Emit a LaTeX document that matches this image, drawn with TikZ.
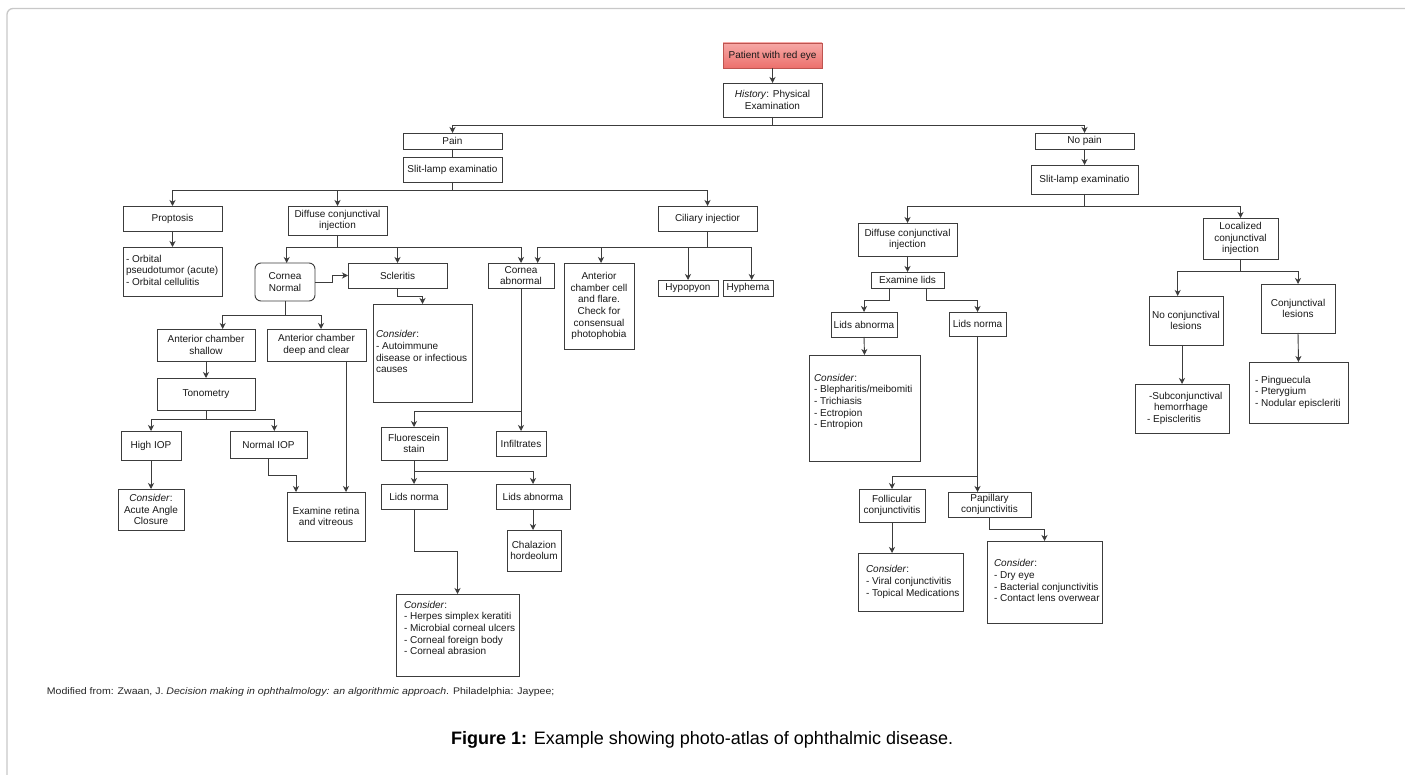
\documentclass[tikz,border=0pt]{standalone}
\usepackage{fontspec}
\setmainfont{Liberation Sans}
\usetikzlibrary{arrows.meta,calc}
\definecolor{ln}{RGB}{60,60,60}
\definecolor{frame}{RGB}{200,200,200}
\definecolor{pattop}{RGB}{246,168,166}
\definecolor{patbot}{RGB}{236,112,108}
\definecolor{patdraw}{RGB}{190,84,80}
\newcommand{\bx}[7][]{%
  \pgfmathsetmacro\bxcx{(#3+#5)/2}\pgfmathsetmacro\bxcy{(#4+#6)/2}%
  \pgfmathsetmacro\bxw{#5-#3}\pgfmathsetmacro\bxh{#6-#4}%
  \node[box,minimum width=\bxw pt,minimum height=\bxh pt,#1] (#2) at (\bxcx,\bxcy) {#7};}
\newcommand{\lbx}[8][]{%
  \pgfmathsetmacro\bxcx{(#3+#5)/2}\pgfmathsetmacro\bxcy{(#4+#6)/2}%
  \pgfmathsetmacro\bxw{#5-#3}\pgfmathsetmacro\bxh{#6-#4}%
  \pgfmathsetmacro\bxtw{#5-#3-2*#7}%
  \node[box,minimum width=\bxw pt,minimum height=\bxh pt,#1] (#2) at (\bxcx,\bxcy)
    {\makebox[\bxtw pt][l]{\begin{tabular}{@{}l@{}}#8\end{tabular}}};}
\begin{document}
\begin{tikzpicture}[x=1pt,y=-1pt,
  box/.style={draw=ln,line width=0.9pt,inner sep=0pt,outer sep=0pt,align=center,
    font=\fontsize{10}{11.7}\selectfont,text=black!90},
  conn/.style={draw=ln,line width=0.9pt},
  arr/.style={conn,-{Stealth[length=6pt,width=6pt,inset=1.8pt]}}]
\clip (0,0) rectangle (1405,775);
\fill[white] (0,0) rectangle (1405,775);
\draw[frame,line width=1.3pt,rounded corners=6pt] (7,8.5) rectangle (1430,800);

% ---------- boxes ----------
\bx[top color=pattop,bottom color=patbot,draw=patdraw]{pat}{723}{43}{822}{68}{Patient with red eye}
\bx{hist}{723}{83}{822}{117}{\textit{History}: Physical\\Examination}
\bx{pain}{403}{133}{502}{149}{Pain}
\bx{slitL}{403}{157}{502}{182}{Slit-lamp examinatio}
\bx{nopain}{1035}{133}{1134}{149}{No pain}
\bx{slitR}{1031}{165}{1138}{194}{Slit-lamp examinatio}
\bx{prop}{123}{206}{222}{231}{Proptosis}
\bx{diffL}{288}{206}{387}{235}{Diffuse conjunctival\\injection}
\bx{cil}{658}{206}{757}{231}{Ciliary injectior}
\lbx{orb}{123}{247}{222}{296}{3}{- Orbital\\pseudotumor (acute)\\- Orbital cellulitis}
\bx[rounded corners=6pt]{cnorm}{255}{263}{315}{301}{Cornea\\Normal}
\bx{scl}{348}{263}{447}{288}{Scleritis}
\bx{cabn}{488}{263}{554}{288}{Cornea\\abnormal}
\bx{acc}{564}{263}{634}{349}{Anterior\\chamber cell\\and flare.\\Check for\\consensual\\photophobia}
\bx{hypo}{658}{280}{718}{296}{Hypopyon}
\bx{hyph}{723}{280}{773}{296}{Hyphema}
\lbx{cons1}{373}{304}{472}{402}{3}{\textit{Consider}:\\- Autoimmune\\disease or infectious\\causes}
\bx{acs}{157}{329}{255}{361}{Anterior chamber\\shallow}
\bx{acd}{267}{329}{366}{361}{Anterior chamber\\deep and clear}
\bx{tono}{157}{378}{255}{410}{Tonometry}
\bx{high}{121}{431}{181}{460}{High IOP}
\bx{nIOP}{230}{431}{307}{458}{Normal IOP}
\bx{aac}{118}{489}{184}{530}{\textit{Consider}:\\Acute Angle\\Closure}
\bx{exam}{287}{492}{365}{541}{Examine retina\\and vitreous}
\bx{fluo}{381}{427}{447}{460}{Fluorescein\\stain}
\bx{infil}{496}{431}{546}{456}{Infiltrates}
\bx{lidsnL}{381}{484}{447}{509}{Lids norma}
\bx{lidsaL}{496}{484}{570}{509}{Lids abnorma}
\bx{chal}{507}{530}{561}{571}{Chalazion\\hordeolum}
\lbx{herp}{396}{594}{519}{676}{8}{\textit{Consider}:\\- Herpes simplex keratiti\\- Microbial corneal ulcers\\- Corneal foreign body\\- Corneal abrasion\\\mbox{}}
\bx{diffR}{858}{223}{957}{256}{Diffuse conjunctival\\injection}
\bx{loc}{1203}{218}{1278}{259}{Localized\\conjunctival\\injection}
\bx{exlids}{871}{272}{944}{288}{Examine lids}
\bx{lidsaR}{831}{312}{897}{337}{Lids abnorma}
\bx{lidsnR}{949}{312}{1006}{336}{Lids norma}
\lbx{cons2}{809}{355}{920}{461}{5}{\textit{Consider}:\\- Blepharitis/meibomiti\\- Trichiasis\\- Ectropion\\- Entropion\\\mbox{}}
\bx{foll}{859}{489}{925}{522}{Follicular\\conjunctivitis}
\bx{papi}{948}{492}{1031}{517}{Papillary\\conjunctivitis}
\lbx{cons3}{858}{553}{963}{611}{8}{\textit{Consider}:\\- Viral conjunctivitis\\- Topical Medications}
\lbx{cons4}{987}{541}{1102}{623}{7}{\textit{Consider}:\\- Dry eye\\- Bacterial conjunctivitis\\- Contact lens overwear}
\bx{nocl}{1149}{296}{1223}{345}{No conjunctival\\lesions}
\bx{cl}{1261}{284}{1335}{333}{Conjunctival\\lesions}
\lbx{subc}{1135}{384}{1229}{433}{12}{\hspace{2pt}-Subconjunctival\\\hspace{7pt}hemorrhage\\- Episcleritis}
\lbx{ping}{1249}{362}{1348}{423}{6}{- Pinguecula\\- Pterygium\\- Nodular episcleriti}

% ---------- connectors ----------
\draw[arr] (pat.south) -- (hist.north);
\draw[conn] (hist.south) -- ++(0,8) coordinate (b1);
\draw[arr] (b1) -| (pain.north);
\draw[arr] (b1) -| (nopain.north);
\draw[conn] (pain.south) -- (slitL.north);
\draw[conn] (slitL.south) -- ++(0,8.3) coordinate (b2);
\draw[arr] (b2) -| (prop.north);
\draw[arr] (b2) -| (diffL.north);
\draw[arr] (b2) -| (cil.north);
\draw[arr] (prop.south) -- (orb.north);
\draw[conn] (diffL.south) -- ++(0,12) coordinate (b3);
\draw[arr] (b3) -| ($(cnorm.north)+(1.7,0)$);
\draw[arr] (b3) -| (scl.north);
\draw[arr] (b3) -| (cabn.north);
\draw[conn] (cil.south) -- ++(0,16) coordinate (b4);
\draw[arr] (b4) -| ($(cabn.north)+(16.7,0)$);
\draw[arr] (b4) -| ($(acc.north)+(2,0)$);
\draw[arr] (b4) -| (hypo.north);
\draw[arr] (b4) -| ($(hyph.north)+(3.7,0)$);
\draw[arr] (cnorm.east) -- ++(17,0) |- (scl.west);
\draw[arr] (scl.south) -- ++(0,8) -| (cons1.north);
\draw[conn] (cnorm.south) -- ++(0,14.5) coordinate (b5);
\draw[arr] (b5) -| ($(acs.north)+(16.7,0)$);
\draw[arr] (b5) -| ($(acd.north)+(4.5,0)$);
\draw[arr] (acs.south) -- (tono.north);
\draw[conn] (tono.south) -- ++(0,9) coordinate (b6);
\draw[arr] (b6) -| (high.north);
\draw[arr] (b6) -| ($(nIOP.north)+(5.8,0)$);
\draw[arr] (high.south) -- (aac.north);
\draw[arr] (nIOP.south) -- ++(0,17.3) -| ($(exam.north)+(-30,0)$);
\draw[arr] ($(acd.south)+(29.5,0)$) -- ($(exam.north)+(20,0)$);
\draw[conn] (cabn.south) -- ++(0,123) coordinate (b7);
\draw[arr] (b7) -| (fluo.north);
\draw[arr] (b7) -- (infil.north);
\draw[conn] (fluo.south) -- ++(0,11.7) coordinate (b8);
\draw[arr] (b8) -| (lidsnL.north);
\draw[arr] (b8) -| (lidsaL.north);
\draw[arr] (lidsaL.south) -- (lidsaL.south |- chal.north);
\draw[arr] (lidsnL.south) -- ++(0,42.7) -| (herp.north);
\draw[arr] (nopain.south) -- (slitR.north);
\draw[conn] (slitR.south) -- ++(0,12.3) coordinate (b9);
\draw[arr] (b9) -| (diffR.north);
\draw[arr] (b9) -| (loc.north);
\draw[arr] (diffR.south) -- (exlids.north);
\draw[arr] ($(exlids.south)+(-18.2,0)$) -- ++(0,12.3) -| (lidsaR.north);
\draw[arr] ($(exlids.south)+(19.2,0)$) -- ++(0,12.3) -| (lidsnR.north);
\draw[arr] (lidsaR.south) -- (cons2.north);
\draw[conn] (lidsnR.south) -- ++(0,140.7) coordinate (b10);
\draw[arr] (b10) -| (foll.north);
\draw[arr] (b10) -- (lidsnR.south |- papi.north);
\draw[arr] (foll.south) -- (foll.south |- cons3.north);
\draw[arr] (papi.south) -- ++(0,12) -| (cons4.north);
\draw[conn] (loc.south) -- ++(0,12.7) coordinate (b11);
\draw[arr] (b11) -| ($(nocl.north)+(-8.3,0)$);
\draw[arr] (b11) -| (cl.north);
\draw[arr] (subc.north |- nocl.south) -- (subc.north);
\draw[arr] (cl.south) -- (ping.north);

% ---------- footer ----------
\node[anchor=west,inner sep=0pt,font=\fontsize{9.6}{11}\selectfont,text=black!85] (src) at (46.7,692)
  {\scalebox{1.1}[1]{Modified from: Zwaan, J. \textit{Decision making in ophthalmology: an algorithmic approach}. Philadelphia: Jaypee;}};
\node[anchor=west,inner sep=0pt,font=\fontsize{18}{21}\selectfont] (cap) at (451,739.5)
  {\textbf{Figure 1:} Example showing photo-atlas of ophthalmic disease.};
\end{tikzpicture}
\end{document}
